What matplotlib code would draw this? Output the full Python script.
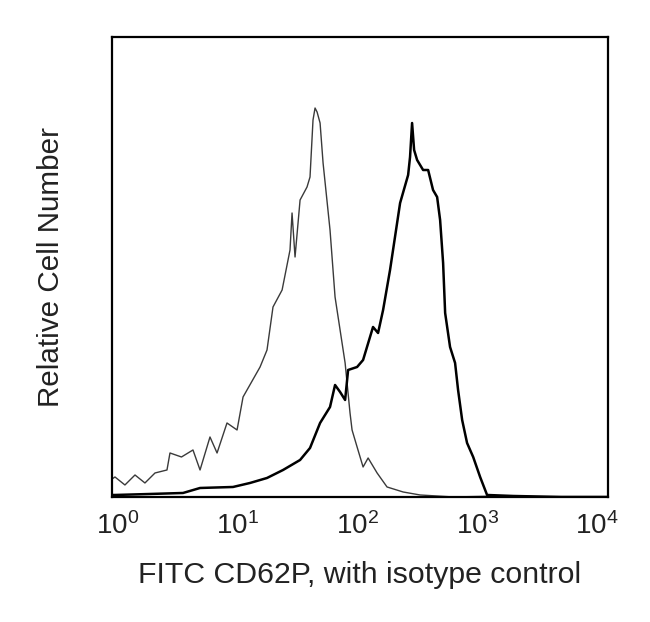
import numpy as np
import matplotlib
matplotlib.use('Agg')
import matplotlib.pyplot as plt
from matplotlib.ticker import FixedLocator, NullLocator

plt.rcParams['font.family'] = ['Liberation Sans', 'DejaVu Sans']
plt.rcParams['mathtext.default'] = 'regular'

# isotype control histogram (log10 fluorescence, relative count)
iso_log = [-0.05, -0.025, 0.058, 0.142, 0.225, 0.309, 0.409, 0.434, 0.53, 0.626, 0.685,
           0.768, 0.827, 0.910, 0.994, 1.044, 1.186, 1.244, 1.294, 1.370, 1.436, 1.453,
           1.478, 1.520, 1.578, 1.603, 1.628, 1.645, 1.662, 1.687, 1.712, 1.770, 1.812,
           1.854, 1.896, 1.937, 1.954, 1.996, 2.046, 2.088, 2.163, 2.246, 2.380, 2.522,
           2.80, 3.2, 3.6, 4.09]
iso_count = [18, 20, 12, 22, 14, 24, 27, 44, 40, 47, 27,
             60, 44, 74, 67, 100, 130, 147, 190, 207, 247, 284,
             240, 297, 310, 320, 377, 389, 385, 374, 334, 267, 200,
             167, 134, 84, 67, 50, 30, 39, 24, 10, 5, 2,
             0, 1, 0, 0]

# CD62P stained sample
cd62p_log = [-0.05, -0.025, 0.267, 0.543, 0.685, 0.960, 1.102, 1.244, 1.378, 1.520,
             1.603, 1.687, 1.770, 1.812, 1.854, 1.896, 1.921, 1.996, 2.046, 2.129,
             2.171, 2.213, 2.271, 2.355, 2.422, 2.438, 2.455, 2.472, 2.497, 2.547,
             2.589, 2.630, 2.664, 2.689, 2.714, 2.731, 2.772, 2.814, 2.839, 2.873,
             2.914, 2.965, 3.023, 3.081, 3.3, 3.7, 4.09]
cd62p_count = [2, 2, 3, 4, 9, 10, 14, 19, 27, 37,
               49, 74, 90, 112, 105, 97, 127, 130, 137, 170,
               164, 187, 227, 294, 322, 340, 374, 347, 337, 327,
               327, 307, 300, 277, 234, 184, 150, 134, 107, 77,
               54, 40, 20, 2, 1, 0, 0]

tick_pos = [1, 10, 100, 1000, 10000]
tick_labels = ['$10^{0}$', '$10^{1}$', '$10^{2}$', '$10^{3}$', '$10^{4}$']

fig = plt.figure(figsize=(6.5, 6.22), dpi=100)
ax = fig.add_axes([0.1723, 0.201, 0.763, 0.7395])

ax.plot(np.power(10.0, iso_log), iso_count, color='#3a3a3a', lw=1.0)
ax.plot(np.power(10.0, cd62p_log), cd62p_count, color='black', lw=1.8)

ax.set_xscale('log')
ax.set_xlim(10 ** -0.05, 10 ** 4.09)
ax.set_ylim(0, 460)
ax.xaxis.set_major_locator(FixedLocator(tick_pos))
ax.xaxis.set_minor_locator(NullLocator())
ax.set_xticklabels(tick_labels, fontsize=20, color='#222222')
ax.tick_params(axis='x', length=0, pad=11)
ax.set_yticks([])

for s in ax.spines.values():
    s.set_linewidth(1.6)

ax.set_xlabel('FITC CD62P, with isotype control', fontsize=21.8, color='#222222')
ax.xaxis.set_label_coords(0.5, -0.14)
ax.set_ylabel('Relative Cell Number', fontsize=21.3, color='#222222', labelpad=34)

fig.savefig('out.png', dpi=100)
